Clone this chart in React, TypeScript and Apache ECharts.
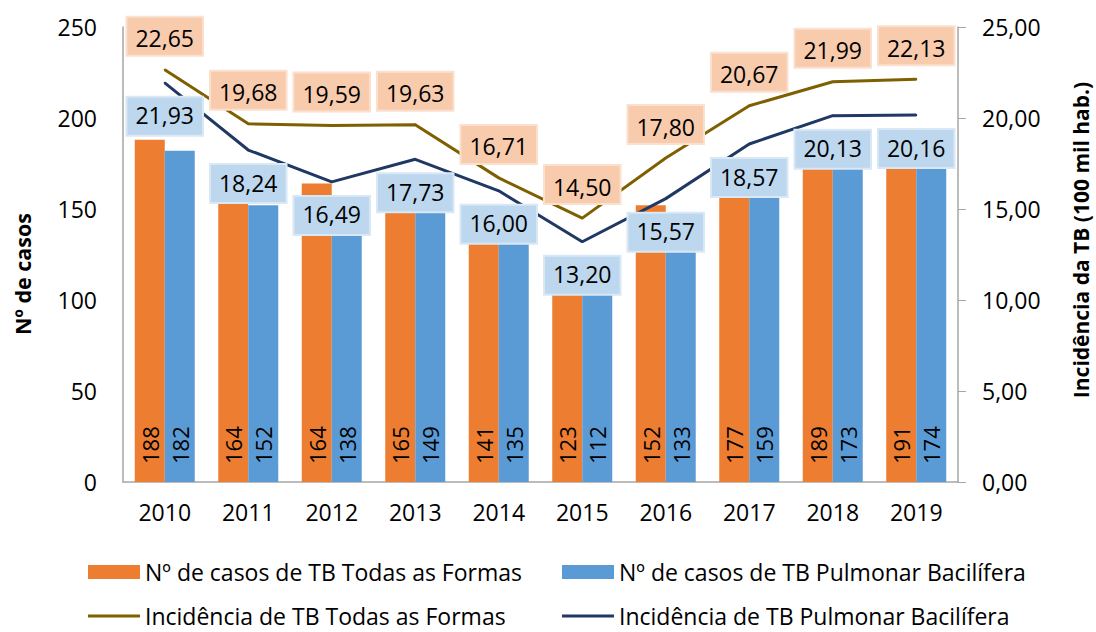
import React, { useEffect, useRef } from "react";
import * as echarts from "echarts";

const years = ["2010", "2011", "2012", "2013", "2014", "2015", "2016", "2017", "2018", "2019"];
const casosTodas = [188, 164, 164, 165, 141, 123, 152, 177, 189, 191];
const casosPulmonar = [182, 152, 138, 149, 135, 112, 133, 159, 173, 174];
const incTodas = [22.65, 19.68, 19.59, 19.63, 16.71, 14.5, 17.8, 20.67, 21.99, 22.13];
const incPulmonar = [21.93, 18.24, 16.49, 17.73, 16.0, 13.2, 15.57, 18.57, 20.13, 20.16];

const names = [
  "Nº de casos de TB Todas as Formas",
  "Nº de casos de TB Pulmonar Bacilífera",
  "Incidência de TB Todas as Formas",
  "Incidência de TB Pulmonar Bacilífera",
];
const leftAxisName = "Nº de casos";
const rightAxisName = "Incidência da TB (100 mil hab.)";

const FONT = "Open Sans";
const OLIVE = "#7F6000";
const NAVY = "#203864";
const fmt2 = (v: number) => v.toFixed(2).replace(".", ",");

export default function App() {
  const ref = useRef<HTMLDivElement>(null);
  useEffect(() => {
    if (!ref.current) return;
    const chart = echarts.init(ref.current, undefined, { renderer: "svg" });
    const legendBase = {
      orient: "horizontal" as const,
      itemWidth: 52,
      itemGap: 8,
      textStyle: { fontFamily: FONT, fontSize: 23, lineHeight: 24, color: "#000" },
    };
    const barLabel = {
      show: true,
      position: "insideBottom",
      distance: 18,
      rotate: 90,
      align: "left",
      verticalAlign: "middle",
      fontFamily: FONT,
      fontSize: 22,
      color: "#000",
    };
    const lineLabel = (pos: string, bg: string, border: string) => ({
      show: true,
      position: pos,
      distance: 14,
      formatter: (p: any) => fmt2(p.value),
      fontFamily: FONT,
      fontSize: 23,
      color: "#000",
      backgroundColor: bg,
      borderColor: border,
      borderWidth: 2,
      padding: pos === "top" ? [9, 8, 5, 8] : [6, 8, 8, 8],
    });
    const titleStyle = { fontFamily: FONT, fontSize: 21.5, fontWeight: "bold", fill: "#000", align: "center", verticalAlign: "middle" };
    chart.setOption({
      animation: false,
      textStyle: { fontFamily: FONT },
      grid: { left: 123, right: 138, top: 27, bottom: 150 },
      graphic: [
        { type: "text", x: 22, y: 274, rotation: Math.PI / 2, style: { ...titleStyle, text: leftAxisName } },
        { type: "text", x: 1081, y: 240, rotation: Math.PI / 2, style: { ...titleStyle, fontSize: 21, text: rightAxisName } },
      ],
      legend: [
        { ...legendBase, itemHeight: 14, icon: "rect", data: [names[0]], left: 83, top: 555 },
        { ...legendBase, itemHeight: 14, icon: "rect", data: [names[1]], left: 557, top: 555 },
        { ...legendBase, itemHeight: 3, icon: "rect", data: [{ name: names[2], itemStyle: { color: OLIVE } }], left: 83, top: 599 },
        { ...legendBase, itemHeight: 3, icon: "rect", data: [{ name: names[3], itemStyle: { color: NAVY } }], left: 557, top: 599 },
      ],
      xAxis: {
        type: "category",
        data: years,
        axisLine: { lineStyle: { color: "#A6A6A6", width: 1.5 } },
        axisTick: { show: false },
        axisLabel: { fontFamily: FONT, fontSize: 23, color: "#000", margin: 18 },
      },
      yAxis: [
        {
          type: "value",
          min: 0,
          max: 250,
          interval: 50,
          axisLine: { show: true, lineStyle: { color: "#A6A6A6", width: 1.5 } },
          axisTick: { show: false },
          splitLine: { show: false },
          axisLabel: { fontFamily: FONT, fontSize: 23, color: "#000", margin: 26 },
        },
        {
          type: "value",
          min: 0,
          max: 25,
          interval: 5,
          axisLine: { show: true, lineStyle: { color: "#A6A6A6", width: 1.5 } },
          axisTick: { show: true, length: 8, lineStyle: { color: "#A6A6A6" } },
          splitLine: { show: false },
          axisLabel: { fontFamily: FONT, fontSize: 23, color: "#000", margin: 24, formatter: (v: number) => fmt2(v) },
        },
      ],
      series: [
        {
          name: names[0],
          type: "bar",
          data: casosTodas,
          barWidth: 30,
          barGap: "0%",
          itemStyle: { color: "#ED7D31" },
          label: barLabel,
        },
        {
          name: names[1],
          type: "bar",
          data: casosPulmonar,
          barWidth: 30,
          barGap: "0%",
          itemStyle: { color: "#5B9BD5" },
          label: barLabel,
        },
        {
          name: names[2],
          type: "line",
          yAxisIndex: 1,
          data: incTodas,
          symbol: "circle",
          symbolSize: 2,
          showSymbol: true,
          lineStyle: { color: OLIVE, width: 3 },
          itemStyle: { color: OLIVE },
          label: lineLabel("top", "#F8CBAD", "#FBE0CF"),
        },
        {
          name: names[3],
          type: "line",
          yAxisIndex: 1,
          data: incPulmonar,
          symbol: "circle",
          symbolSize: 2,
          showSymbol: true,
          lineStyle: { color: NAVY, width: 3 },
          itemStyle: { color: NAVY },
          label: lineLabel("bottom", "#BDD7EE", "#DAE8F5"),
        },
      ],
    });
    return () => chart.dispose();
  }, []);
  return <div ref={ref} style={{ width: 1096, height: 632, position: "absolute", left: 0, top: 0 }} />;
}
